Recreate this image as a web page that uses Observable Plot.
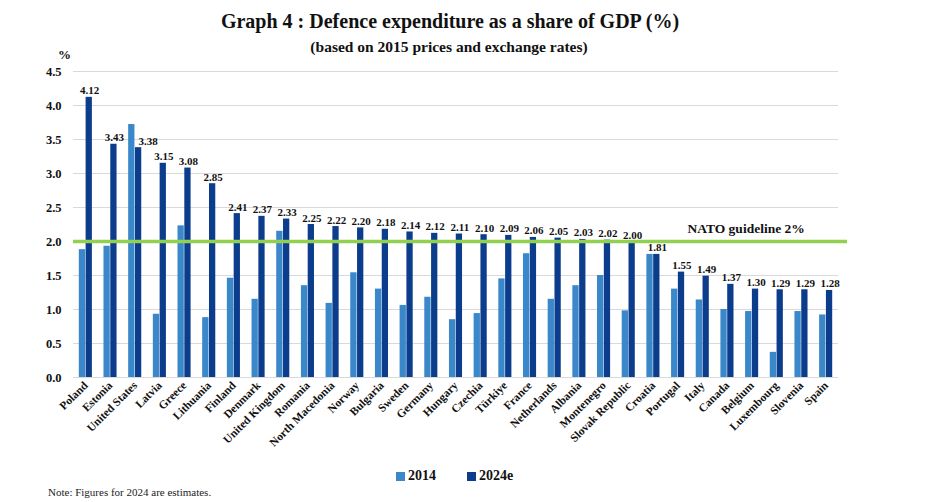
<!DOCTYPE html>
<html>
<head>
<meta charset="utf-8">
<script src="https://cdn.jsdelivr.net/npm/d3@7"></script>
<script src="https://cdn.jsdelivr.net/npm/@observablehq/plot@0.6"></script>
<style>
  html, body { margin: 0; padding: 0; background: #fff; }
  #wrap { position: relative; width: 945px; height: 502px; font-family: 'Liberation Serif', 'Times New Roman', serif; color: #111; overflow: hidden; background: #fff; }
  #chart { position: absolute; left: 0; top: 0; z-index: 0; }
  .title, .subtitle, .legend, .note { z-index: 1; }
  .title { position: absolute; left: 0; width: 900px; top: 11px; text-align: center; font-size: 20px; font-weight: bold; line-height: 1; }
  .subtitle { position: absolute; left: 0; width: 898px; top: 39px; text-align: center; font-size: 15.5px; font-weight: bold; line-height: 1; }
  .legend { position: absolute; left: 396px; top: 469px; display: flex; align-items: center; font-size: 14px; font-weight: bold; line-height: 1; }
  .legend .item { display: flex; align-items: center; }
  .legend .item + .item { margin-left: 31px; }
  .legend .sw { width: 9px; height: 9px; margin-right: 3px; }
  .note { position: absolute; left: 48px; top: 487px; font-size: 11px; line-height: 1; color: #222; }
</style>
</head>
<body>
<div id="wrap">
  <div id="chart"></div>
  <div class="title">Graph 4 : Defence expenditure as a share of GDP (%)</div>
  <div class="subtitle">(based on 2015 prices and exchange rates)</div>
  <div class="legend" id="legend"></div>
  <div class="note">Note: Figures for 2024 are estimates.</div>
</div>
<script>
const countries = ["Poland","Estonia","United States","Latvia","Greece","Lithuania","Finland","Denmark","United Kingdom","Romania","North Macedonia","Norway","Bulgaria","Sweden","Germany","Hungary","Czechia","Türkiye","France","Netherlands","Albania","Montenegro","Slovak Republic","Croatia","Portugal","Italy","Canada","Belgium","Luxembourg","Slovenia","Spain"];
const values2014 = [1.88,1.93,3.72,0.93,2.23,0.88,1.46,1.15,2.15,1.35,1.09,1.54,1.30,1.06,1.18,0.85,0.94,1.45,1.82,1.15,1.35,1.50,0.98,1.81,1.30,1.14,1.00,0.97,0.37,0.97,0.92];
const values2024 = [4.12,3.43,3.38,3.15,3.08,2.85,2.41,2.37,2.33,2.25,2.22,2.20,2.18,2.14,2.12,2.11,2.10,2.09,2.06,2.05,2.03,2.02,2.00,1.81,1.55,1.49,1.37,1.30,1.29,1.29,1.28];
const seriesNames = ["2014", "2024e"];
const yTicks = [0, 0.5, 1, 1.5, 2, 2.5, 3, 3.5, 4, 4.5];
const guideline = 2;
const guidelineLabel = "NATO guideline 2%";
const guidelineAnchorCountry = "Belgium";
const yUnit = "%";

const color2014 = "#3A87C9";
const color2024 = "#0B3D8C";
const font = "'Liberation Serif', 'Times New Roman', serif";

const rows = countries.map((c, i) => ({country: c, v2014: values2014[i], v2024: values2024[i]}));
const shifted = new Set(["United States"]);

const chart = Plot.plot({
  width: 945,
  height: 462,
  marginTop: 71,
  marginBottom: 85,
  marginLeft: 73,
  marginRight: 107,
  style: {fontFamily: font, background: "transparent", color: "#111"},
  x: {domain: countries, padding: 0, round: false},
  y: {domain: [0, 4.5]},
  marks: [
    Plot.gridY(yTicks, {stroke: "#d9d9d9", strokeOpacity: 1, strokeWidth: 1}),
    Plot.axisY(yTicks, {tickSize: 0, tickPadding: 12, tickFormat: d => d.toFixed(1), fontSize: 12.5, fontWeight: "bold", label: null}),
    Plot.axisX({tickSize: 0, tickPadding: 6, tickRotate: -45, fontSize: 11.5, fontWeight: "bold", label: null}),
    Plot.barY(rows, {x: "country", y: "v2014", fill: color2014, insetLeft: 5.8, insetRight: 12.6}),
    Plot.barY(rows, {x: "country", y: "v2024", fill: color2024, insetLeft: 12.6, insetRight: 5.8}),
    Plot.ruleY([guideline], {stroke: "#92D050", strokeWidth: 3.5, insetRight: -9}),
    Plot.text(rows.filter(d => !shifted.has(d.country)), {x: "country", y: "v2024", text: d => d.v2024.toFixed(2), dx: 3.9, dy: -3, lineAnchor: "bottom", fontSize: 11, fontWeight: "bold", fill: "#111"}),
    Plot.text(rows.filter(d => shifted.has(d.country)), {x: "country", y: "v2024", text: d => d.v2024.toFixed(2), dx: 13, dy: -3, lineAnchor: "bottom", fontSize: 11, fontWeight: "bold", fill: "#111"}),
    Plot.text([{country: guidelineAnchorCountry, v: guideline, label: guidelineLabel}], {x: "country", y: "v", text: "label", dx: -6, dy: -9, lineAnchor: "bottom", fontSize: 13.5, fontWeight: "bold", fill: "#111"}),
    Plot.text([yUnit], {frameAnchor: "top-left", text: d => d, dx: -9, dy: -13, lineAnchor: "bottom", textAnchor: "middle", fontSize: 13, fontWeight: "bold", fill: "#111"})
  ]
});
document.getElementById("chart").appendChild(chart);

const legend = document.getElementById("legend");
[color2014, color2024].forEach((c, i) => {
  const item = document.createElement("div");
  item.className = "item";
  const sw = document.createElement("span");
  sw.className = "sw";
  sw.style.background = c;
  const t = document.createElement("span");
  t.textContent = seriesNames[i];
  item.appendChild(sw);
  item.appendChild(t);
  legend.appendChild(item);
});
</script>
</body>
</html>
